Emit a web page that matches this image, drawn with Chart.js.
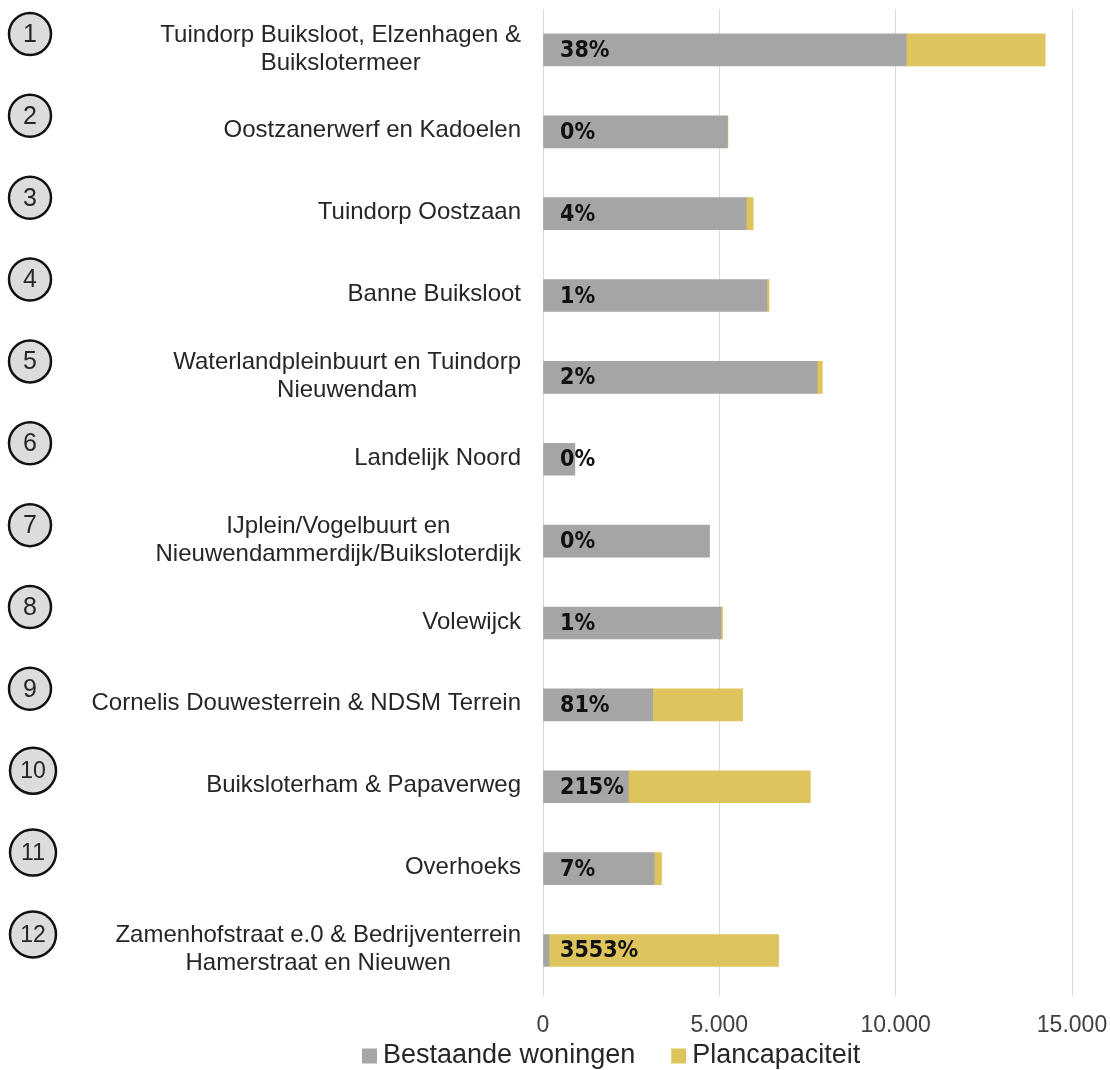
<!DOCTYPE html>
<html>
<head>
<meta charset="utf-8">
<script src="https://cdn.jsdelivr.net/npm/chart.js@4/dist/chart.umd.min.js"></script>
<style>
  html, body { margin: 0; padding: 0; background: #ffffff; }
  #wrap { width: 1110px; height: 1070px; position: relative; }
</style>
</head>
<body>
<div id="wrap"><canvas id="chart-buurten"></canvas></div>
<script>
const categories = [
  ["Tuindorp Buiksloot, Elzenhagen &", "Buikslotermeer"],
  "Oostzanerwerf en Kadoelen",
  "Tuindorp Oostzaan",
  "Banne Buiksloot",
  ["Waterlandpleinbuurt en Tuindorp", "Nieuwendam"],
  "Landelijk Noord",
  ["IJplein/Vogelbuurt en", "Nieuwendammerdijk/Buiksloterdijk"],
  "Volewijck",
  "Cornelis Douwesterrein & NDSM Terrein",
  "Buiksloterham & Papaverweg",
  "Overhoeks",
  ["Zamenhofstraat e.0 & Bedrijventerrein", "Hamerstraat en Nieuwen"],
];

const bestaandeWoningen = [10300, 5230, 5760, 6350, 7770, 900, 4720, 5050, 3110, 2420, 3150, 170];
const plancapaciteit = [3940, 15, 200, 60, 150, 4, 0, 40, 2550, 5160, 210, 6510];
const percentLabels = ["38%", "0%", "4%", "1%", "2%", "0%", "0%", "1%", "81%", "215%", "7%", "3553%"];

const seriesNames = ["Bestaande woningen", "Plancapaciteit"];
const COLORS = { gray: "#a5a5a5", yellow: "#dec45c", grid: "#d9d9d9", text: "#262626", tick: "#404040" };

const LABEL_FONT = "24px 'Liberation Sans', Arial, sans-serif";
const PCT_FONT = "bold 23px 'DejaVu Sans Condensed', 'DejaVu Sans', sans-serif";
const LEGEND_FONT = "27px 'Liberation Sans', Arial, sans-serif";

function thousands(v) {
  return String(v).replace(/\B(?=(\d{3})+(?!\d))/g, ".");
}

// circles with numbers + category labels on the left, centred lines like excel does
const leftLabels = {
  id: "leftLabels",
  afterDraw(chart) {
    const { ctx } = chart;
    const y = chart.scales.y;
    const labelRight = chart.chartArea.left - 22;
    ctx.save();
    categories.forEach((cat, i) => {
      const cy = y.getPixelForValue(i);
      const lines = Array.isArray(cat) ? cat : [cat];
      ctx.font = LABEL_FONT;
      ctx.fillStyle = COLORS.text;
      ctx.textAlign = "center";
      ctx.textBaseline = "middle";
      const maxW = Math.max(...lines.map((l) => ctx.measureText(l).width));
      const cx = labelRight - maxW / 2;
      const lh = 28;
      lines.forEach((l, j) => {
        ctx.fillText(l, cx, cy - 1 + (j - (lines.length - 1) / 2) * lh);
      });

      // numbered circle
      const n = i + 1;
      const r = n > 9 ? 23 : 21;
      const ccx = n > 9 ? 33 : 30;
      const ccy = cy - 16;
      ctx.beginPath();
      ctx.arc(ccx, ccy, r, 0, Math.PI * 2);
      ctx.fillStyle = "#dcdcdc";
      ctx.fill();
      ctx.lineWidth = 2.5;
      ctx.strokeStyle = "#111111";
      ctx.stroke();
      ctx.fillStyle = COLORS.text;
      ctx.font = (n > 9 ? "23px" : "25px") + " 'Liberation Sans', Arial, sans-serif";
      ctx.fillText(String(n), ccx, ccy + 1);
    });
    ctx.restore();
  },
};

const percentText = {
  id: "percentText",
  afterDatasetsDraw(chart) {
    const { ctx } = chart;
    const x0 = chart.scales.x.getPixelForValue(0);
    ctx.save();
    ctx.font = PCT_FONT;
    ctx.fillStyle = "#111111";
    ctx.textAlign = "left";
    ctx.textBaseline = "middle";
    percentLabels.forEach((t, i) => {
      ctx.fillText(t, x0 + 17, chart.scales.y.getPixelForValue(i) + 1);
    });
    ctx.restore();
  },
};

const bottomLegend = {
  id: "bottomLegend",
  afterDraw(chart) {
    const { ctx } = chart;
    const colors = [COLORS.gray, COLORS.yellow];
    const cy = chart.height - 14;
    let x = 362;
    ctx.save();
    ctx.font = LEGEND_FONT;
    ctx.textBaseline = "middle";
    ctx.textAlign = "left";
    seriesNames.forEach((name, i) => {
      ctx.fillStyle = colors[i];
      ctx.fillRect(x, cy - 7.5, 15, 15);
      x += 21;
      ctx.fillStyle = COLORS.text;
      ctx.fillText(name, x, cy);
      x += ctx.measureText(name).width + 36;
    });
    ctx.restore();
  },
};

new Chart(document.getElementById("chart-buurten"), {
  type: "bar",
  data: {
    labels: categories,
    datasets: [
      { label: seriesNames[0], data: bestaandeWoningen, backgroundColor: COLORS.gray, barThickness: 32 },
      { label: seriesNames[1], data: plancapaciteit, backgroundColor: COLORS.yellow, barThickness: 32 },
    ],
  },
  options: {
    indexAxis: "y",
    responsive: true,
    maintainAspectRatio: false,
    animation: false,
    devicePixelRatio: 1,
    layout: { padding: { top: 9, right: 38, bottom: 16, left: 0 } },
    scales: {
      x: {
        stacked: true,
        min: 0,
        max: 15000,
        border: { display: false },
        grid: { color: COLORS.grid, lineWidth: 1, tickLength: 5 },
        ticks: {
          stepSize: 5000,
          padding: 15,
          color: COLORS.tick,
          font: { family: "'Liberation Sans', Arial, sans-serif", size: 23 },
          callback: (v) => thousands(v),
        },
        // the last tick label may hang into the right padding
        afterFit: (scale) => { scale.paddingRight = 0; },
      },
      y: {
        stacked: true,
        border: { display: false },
        grid: { display: false },
        ticks: { display: false },
        afterFit: (scale) => { scale.width = 543; },
      },
    },
    plugins: {
      legend: { display: false },
      tooltip: { enabled: false },
    },
  },
  plugins: [leftLabels, percentText, bottomLegend],
});
</script>
</body>
</html>
